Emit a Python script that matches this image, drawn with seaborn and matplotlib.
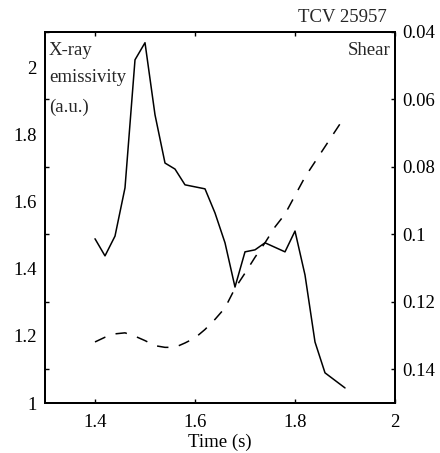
import matplotlib
matplotlib.use("Agg")
import matplotlib.pyplot as plt
import seaborn as sns
import pandas as pd

# X-ray emissivity (a.u.) vs time
time_xray = [1.40, 1.42, 1.44, 1.46, 1.48, 1.50, 1.52, 1.54, 1.56, 1.58, 1.62, 1.64,
             1.66, 1.68, 1.70, 1.72, 1.74, 1.78, 1.80, 1.82, 1.84, 1.86, 1.90]
xray = [1.490, 1.439, 1.498, 1.642, 2.024, 2.075, 1.860, 1.716, 1.698, 1.651, 1.639, 1.567,
        1.478, 1.346, 1.451, 1.457, 1.478, 1.451, 1.513, 1.382, 1.182, 1.090, 1.045]

# Magnetic shear vs time (right axis, inverted)
time_shear = [1.40, 1.42, 1.44, 1.46, 1.48, 1.50, 1.52, 1.54, 1.56, 1.58, 1.60, 1.62, 1.64,
              1.66, 1.68, 1.70, 1.72, 1.74, 1.76, 1.78, 1.80, 1.82, 1.84, 1.86, 1.88, 1.90]
shear = [0.1319, 0.1305, 0.1295, 0.1292, 0.1302, 0.1315, 0.1330, 0.1335, 0.1335, 0.1322,
         0.1307, 0.1282, 0.1252, 0.1218, 0.1160, 0.1115, 0.1068, 0.1025, 0.0978, 0.0940,
         0.0885, 0.0830, 0.0785, 0.0740, 0.0695, 0.0650]

x_ticks = [1.4, 1.6, 1.8, 2.0]
x_ticklabels = ["1.4", "1.6", "1.8", "2"]
left_ticks = [1.0, 1.2, 1.4, 1.6, 1.8, 2.0]
left_ticklabels = ["1", "1.2", "1.4", "1.6", "1.8", "2"]
right_ticks = [0.04, 0.06, 0.08, 0.10, 0.12, 0.14]
right_ticklabels = ["0.04", "0.06", "0.08", "0.1", "0.12", "0.14"]

sns.set_theme(style="white")
plt.rcParams['font.family'] = ['Liberation Serif', 'DejaVu Serif']
FS = 13.5

df_x = pd.DataFrame({"t": time_xray, "v": xray})
df_s = pd.DataFrame({"t": time_shear, "v": shear})

fig = plt.figure(figsize=(4.4, 4.53), dpi=100)
ax = fig.add_axes([45/440, 50/453, 350/440, 371/453])
ax2 = ax.twinx()

sns.lineplot(data=df_x, x="t", y="v", ax=ax, color="black", linewidth=1.1, sort=False)
sns.lineplot(data=df_s, x="t", y="v", ax=ax2, color="black", linewidth=1.1, sort=False)
ax2.lines[0].set_dashes([7.5, 7.0])

ax.set_xlim(1.3, 2.0)
ax.set_ylim(1.0, 2.107)
ax2.set_ylim(0.15, 0.04)

ax.set_xticks(x_ticks)
ax.set_xticklabels(x_ticklabels, fontsize=FS)
ax.set_yticks(left_ticks)
ax.set_yticklabels(left_ticklabels, fontsize=FS)
ax2.set_yticks(right_ticks)
ax2.set_yticklabels(right_ticklabels, fontsize=FS)

ax.tick_params(axis='x', direction='in', top=True, bottom=True, length=3, width=1, pad=8, colors='black')
ax.tick_params(axis='y', length=0, pad=6, colors='black')
ax2.tick_params(axis='y', direction='in', left=True, right=True, labelleft=False,
                labelright=True, length=3, width=1, pad=5, colors='black')

ax.set_xlabel("Time (s)", fontsize=FS, labelpad=2, color='black')
ax.set_ylabel("")
ax2.set_ylabel("")

for a in (ax, ax2):
    for sp in a.spines.values():
        sp.set_visible(True)
        sp.set_color('black')
        sp.set_linewidth(1.4)

ax.text(0.011, 0.938, "X-ray", transform=ax.transAxes, ha='left', va='baseline', fontsize=FS)
ax.text(0.011, 0.865, "emissivity", transform=ax.transAxes, ha='left', va='baseline', fontsize=FS)
ax.text(0.011, 0.784, "(a.u.)", transform=ax.transAxes, ha='left', va='baseline', fontsize=FS)
ax.text(0.986, 0.938, "Shear", transform=ax.transAxes, ha='right', va='baseline', fontsize=FS)
ax.text(0.977, 1.027, "TCV 25957", transform=ax.transAxes, ha='right', va='baseline', fontsize=FS)

fig.savefig("out.png", dpi=100)
